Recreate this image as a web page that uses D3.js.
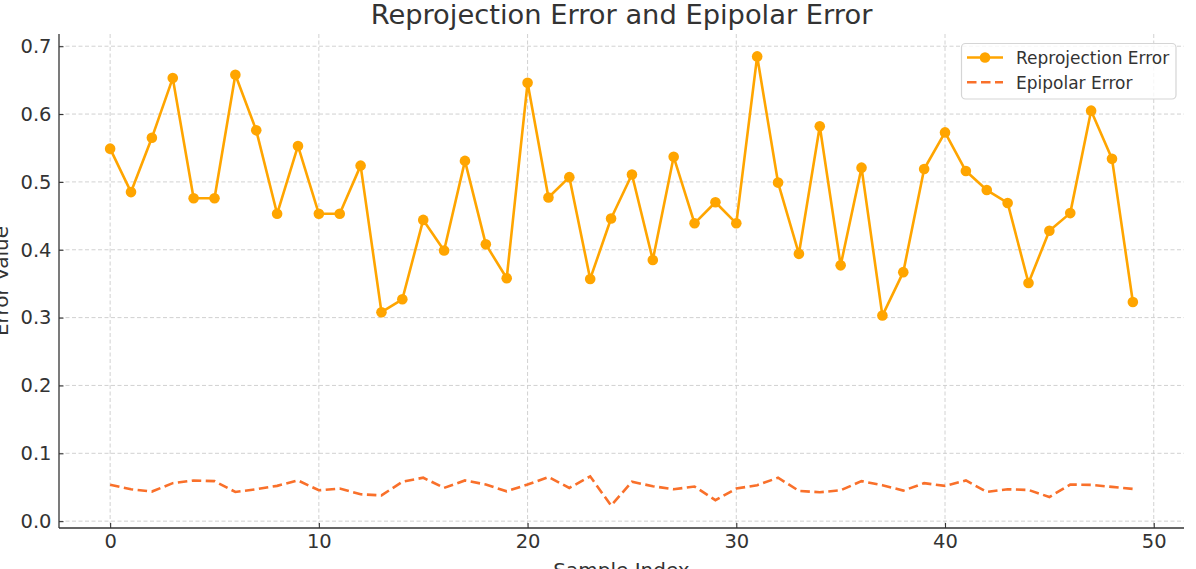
<!DOCTYPE html>
<html>
<head>
<meta charset="utf-8">
<script src="https://cdn.jsdelivr.net/npm/d3@7"></script>
<style>
  html, body { margin: 0; padding: 0; background: #fff; }
  svg { display: block; font-family: "DejaVu Sans", sans-serif; }
</style>
</head>
<body>
<svg id="chart" width="1196" height="569"></svg>
<script>
const sampleIndex = d3.range(0, 50);
const reprojectionError = [
  0.549, 0.485, 0.565, 0.653, 0.476, 0.476, 0.658, 0.576, 0.453, 0.553,
  0.453, 0.453, 0.524, 0.308, 0.327, 0.444, 0.399, 0.531, 0.408, 0.358,
  0.646, 0.477, 0.507, 0.357, 0.446, 0.511, 0.385, 0.537, 0.439, 0.470,
  0.439, 0.685, 0.499, 0.394, 0.582, 0.377, 0.521, 0.303, 0.367, 0.519,
  0.573, 0.516, 0.488, 0.469, 0.351, 0.428, 0.454, 0.605, 0.534, 0.323
];
const epipolarError = [
  0.0535, 0.047, 0.0436, 0.056, 0.060, 0.059, 0.043, 0.047, 0.052, 0.060,
  0.0455, 0.048, 0.0396, 0.038, 0.058, 0.064, 0.049, 0.060, 0.054, 0.044,
  0.054, 0.065, 0.049, 0.066, 0.023, 0.058, 0.0515, 0.047, 0.051, 0.031,
  0.048, 0.053, 0.064, 0.0446, 0.0426, 0.0455, 0.059, 0.053, 0.045, 0.056,
  0.052, 0.060, 0.043, 0.047, 0.046, 0.0356, 0.054, 0.0535, 0.0505, 0.0475
];
const xTicks = [0, 10, 20, 30, 40, 50];
const yTicks = [0.0, 0.1, 0.2, 0.3, 0.4, 0.5, 0.6, 0.7];
const seriesNames = ["Reprojection Error", "Epipolar Error"];
const titleText = "Reprojection Error and Epipolar Error";
const xLabelText = "Sample Index";
const yLabelText = "Error Value";

const svg = d3.select("#chart");
const L = 59, R = 1184, T = 34, B = 528;
const textColor = "#333333";
const c1 = "#FFA500", c2 = "#F9702A";

const x = d3.scaleLinear().domain([-2.45, 51.45]).range([L, R]);
const y = d3.scaleLinear().domain([-0.0101, 0.7180]).range([B, T]);

// grid
const grid = svg.append("g").attr("stroke", "#cccccc").attr("stroke-width", 0.9).attr("stroke-dasharray", "4,2.5");
grid.selectAll(".gx").data(xTicks).join("line")
  .attr("x1", d => x(d)).attr("x2", d => x(d)).attr("y1", T).attr("y2", B);
grid.selectAll(".gy").data(yTicks).join("line")
  .attr("x1", L).attr("x2", R).attr("y1", d => y(d)).attr("y2", d => y(d));

// axes
const xAxis = d3.axisBottom(x).tickValues(xTicks).tickFormat(d3.format("d")).tickSizeInner(-5).tickSizeOuter(0).tickPadding(6.5);
const yAxis = d3.axisLeft(y).tickValues(yTicks).tickFormat(d3.format(".1f")).tickSizeInner(-4.5).tickSizeOuter(0).tickPadding(7.5);

const gx = svg.append("g").attr("transform", `translate(0,${B})`).call(xAxis);
const gy = svg.append("g").attr("transform", `translate(${L},0)`).call(yAxis);
[gx, gy].forEach(g => {
  g.select(".domain").attr("stroke", textColor).attr("stroke-width", 1.3);
  g.selectAll(".tick line").attr("stroke", textColor).attr("stroke-width", 1.1);
  g.selectAll(".tick text").attr("fill", textColor).style("font-size", "19.5px").style("font-family", "DejaVu Sans");
});
gx.select(".domain").attr("d", `M${L},0H${R}`);
gy.select(".domain").attr("d", `M0,${T}V${B}`);

// lines
const lineR = d3.line().x((d, i) => x(sampleIndex[i])).y(d => y(d));
svg.append("path").datum(epipolarError)
  .attr("d", lineR).attr("fill", "none").attr("stroke", c2)
  .attr("stroke-width", 2.6).attr("stroke-dasharray", "9.5,4.5");
svg.append("path").datum(reprojectionError)
  .attr("d", lineR).attr("fill", "none").attr("stroke", c1)
  .attr("stroke-width", 2.6).attr("stroke-linejoin", "round");
svg.append("g").selectAll("circle").data(reprojectionError).join("circle")
  .attr("cx", (d, i) => x(sampleIndex[i])).attr("cy", d => y(d))
  .attr("r", 5.3).attr("fill", c1);

// title
svg.append("text").attr("x", (L + R) / 2).attr("y", 24)
  .attr("text-anchor", "middle").attr("fill", textColor)
  .style("font-size", "27.3px").text(titleText);

// axis labels
svg.append("text").attr("x", (L + R) / 2).attr("y", 577)
  .attr("text-anchor", "middle").attr("fill", textColor)
  .style("font-size", "20px").text(xLabelText);
svg.append("text").attr("transform", `translate(8,${(T + B) / 2}) rotate(-90)`)
  .attr("text-anchor", "middle").attr("fill", textColor)
  .style("font-size", "20px").text(yLabelText);

// legend
const lg = svg.append("g");
lg.append("rect").attr("x", 961.5).attr("y", 43.5).attr("width", 214.5).attr("height", 55.5)
  .attr("rx", 4).attr("fill", "#fff").attr("fill-opacity", 0.8)
  .attr("stroke", "#d5d5d5").attr("stroke-width", 1.2);
const legendItems = [
  { name: seriesNames[0], color: c1, dash: null, marker: true },
  { name: seriesNames[1], color: c2, dash: "9.5,4.5", marker: false }
];
legendItems.forEach((it, i) => {
  const cy = 57.5 + i * 24.7;
  lg.append("line").attr("x1", 967).attr("x2", 1003).attr("y1", cy).attr("y2", cy)
    .attr("stroke", it.color).attr("stroke-width", 2.6)
    .attr("stroke-dasharray", it.dash);
  if (it.marker) lg.append("circle").attr("cx", 985).attr("cy", cy).attr("r", 5.3).attr("fill", it.color);
  lg.append("text").attr("x", 1016).attr("y", cy + 6.6).attr("fill", textColor)
    .style("font-size", "17px").text(it.name);
});
</script>
</body>
</html>
